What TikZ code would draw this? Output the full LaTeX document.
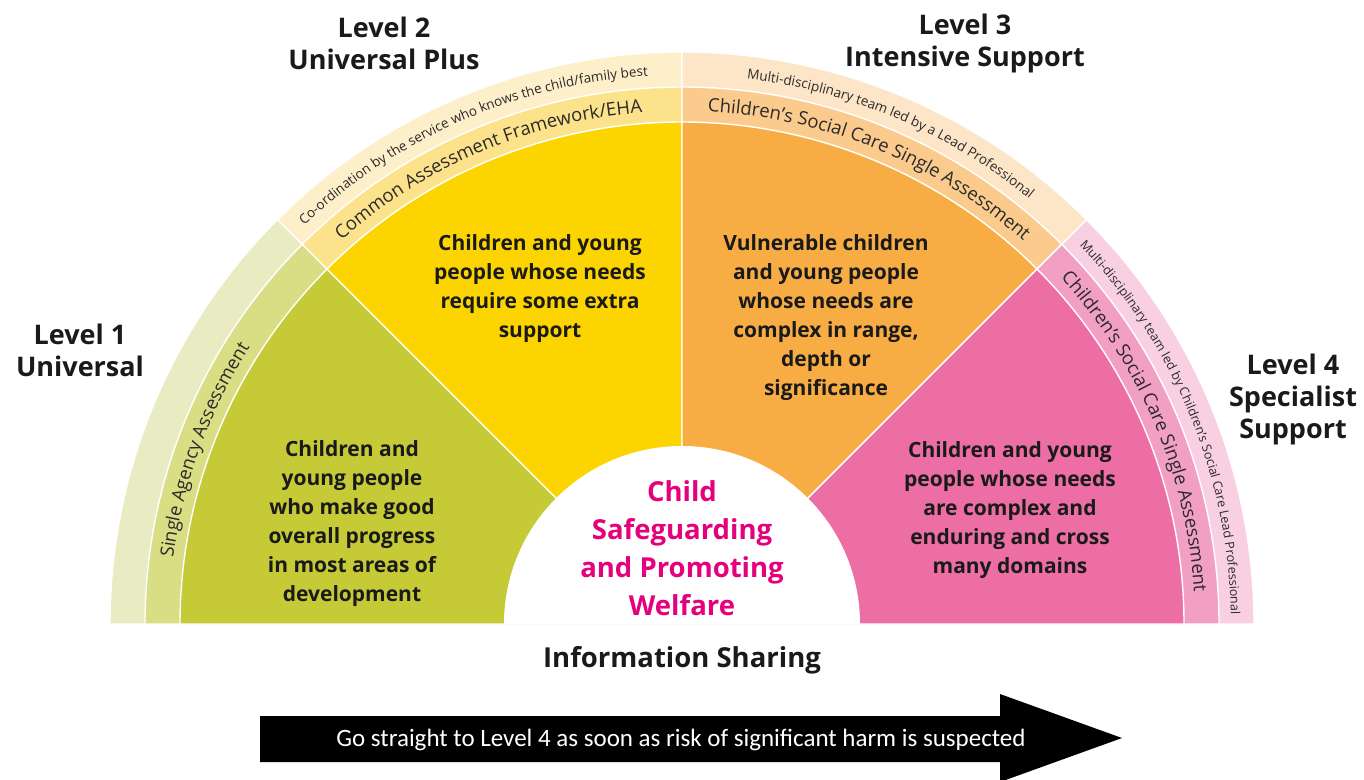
\documentclass[tikz,border=0pt]{standalone}
\usepackage{fontspec}
\setmainfont{Open Sans}
\newfontfamily\calfont{Carlito}
\usetikzlibrary{decorations.text}
\definecolor{gMain}{HTML}{C5CA36}
\definecolor{gIn}{HTML}{D9DD84}
\definecolor{gOut}{HTML}{E9ECC3}
\definecolor{yMain}{HTML}{FCD500}
\definecolor{yIn}{HTML}{FDE28C}
\definecolor{yOut}{HTML}{FEEFCB}
\definecolor{oMain}{HTML}{F8AD44}
\definecolor{oIn}{HTML}{FBCB8E}
\definecolor{oOut}{HTML}{FDE5C8}
\definecolor{pMain}{HTML}{EC6EA4}
\definecolor{pIn}{HTML}{F29FC4}
\definecolor{pOut}{HTML}{F8D0E2}
\definecolor{magentaTxt}{HTML}{E5007D}
\definecolor{darkTxt}{HTML}{1A1A1A}
\definecolor{ringTxt}{HTML}{2A2A2A}
\newcommand{\ringInFont}{\fontsize{18.5}{18.5}\selectfont}
\newcommand{\ringOutFont}{\fontsize{13.5}{13.5}\selectfont}
\newcommand{\ringOutSmall}{\fontsize{12.6}{12.6}\selectfont}
\tikzset{
  piece/.style={draw=white, line width=1.4pt},
  levellabel/.style={font=\bfseries\fontsize{27}{32}\selectfont, text=darkTxt, align=center, inner sep=0pt},
  sectortext/.style={font=\bfseries\fontsize{21}{29}\selectfont, text=darkTxt, align=center, inner sep=0pt},
  ringtext/.style={decorate, decoration={text along path, text align=center, text color=ringTxt, text={#1}}}
}
\begin{document}
\begin{tikzpicture}[x=1pt,y=1pt]
\useasboundingbox (0,0) rectangle (1364,-779);
\begin{scope}[shift={(682,-624)}]
\coordinate (O) at (0,0);
% outer ring
\foreach \a/\b/\c in {135/180/gOut, 90/135/yOut, 45/90/oOut, 0/45/pOut}{
  \filldraw[piece, fill=\c] (O) -- (\a:572pt) arc[start angle=\a, end angle=\b, radius=572pt] -- cycle;
}
% inner ring
\foreach \a/\b/\c in {135/180/gIn, 90/135/yIn, 45/90/oIn, 0/45/pIn}{
  \filldraw[piece, fill=\c] (O) -- (\a:537pt) arc[start angle=\a, end angle=\b, radius=537pt] -- cycle;
}
% main sectors
\foreach \a/\b/\c in {135/180/gMain, 90/135/yMain, 45/90/oMain, 0/45/pMain}{
  \filldraw[piece, fill=\c] (O) -- (\a:502pt) arc[start angle=\a, end angle=\b, radius=502pt] -- cycle;
}
% centre
\fill[white] (0:178pt) arc[start angle=0, end angle=180, radius=178pt] -- cycle;
% curved texts
\path[ringtext={|\ringInFont|Single Agency Assessment}] (200:513pt) arc[start angle=200, end angle=120, radius=513pt];
\path[ringtext={|\ringOutFont|Co-ordination by the service who knows the child/family best}] (163.5:549pt) arc[start angle=163.5, end angle=63.5, radius=549pt];
\path[ringtext={|\ringInFont|Common Assessment Framework/EHA}] (163:513pt) arc[start angle=163, end angle=63, radius=513pt];
\path[ringtext={|\ringOutFont|Multi-disciplinary team led by a Lead Professional}] (117:549pt) arc[start angle=117, end angle=17, radius=549pt];
\path[ringtext={|\ringInFont|Children’s Social Care Single Assessment}] (117.7:513pt) arc[start angle=117.7, end angle=17.7, radius=513pt];
\path[ringtext={|\ringInFont|Children’s Social Care Single Assessment}] (73:513pt) arc[start angle=73, end angle=-27, radius=513pt];
\path[ringtext={|\ringOutSmall|Multi-disciplinary team led by Children’s Social Care Lead Professional}] (72.3:549pt) arc[start angle=72.3, end angle=-27.7, radius=549pt];
\end{scope}
% level labels
\node[levellabel] (l1) at (80,-350) {Level 1\\Universal};
\node[levellabel] (l2) at (384,-43) {Level 2\\Universal Plus};
\node[levellabel] (l3) at (965,-43) {Level 3\\Intensive Support};
\node[levellabel] (l4) at (1293,-399) {Level 4\\Specialist\\Support};
% sector texts
\node[sectortext] (s1) at (352,-524) {Children and\\young people\\who make good\\overall progress\\in most areas of\\development};
\node[sectortext] (s2) at (540,-289) {Children and young\\people whose needs\\require some extra\\support};
\node[sectortext] (s3) at (826,-318) {Vulnerable children\\and young people\\whose needs are\\complex in range,\\depth or\\significance};
\node[sectortext] (s4) at (1010,-510) {Children and young\\people whose needs\\are complex and\\enduring and cross\\many domains};
% centre text
\node[font=\bfseries\fontsize{27.5}{38}\selectfont, text=magentaTxt, align=center, inner sep=0pt] (ctr) at (682,-548) {Child\\Safeguarding\\and Promoting\\Welfare};
\node[font=\bfseries\fontsize{27.5}{30}\selectfont, text=darkTxt, inner sep=0pt] (info) at (682,-660) {Information Sharing};
% arrow
\fill[black] (260,-716) -- (1000,-716) -- (1000,-694) -- (1122,-738) -- (1000,-782) -- (1000,-762) -- (260,-762) -- cycle;
\node[font=\calfont\fontsize{25}{25}\selectfont, text=white, inner sep=0pt] (go) at (681,-740) {Go straight to Level 4 as soon as risk of significant harm is suspected};
\end{tikzpicture}
\end{document}
